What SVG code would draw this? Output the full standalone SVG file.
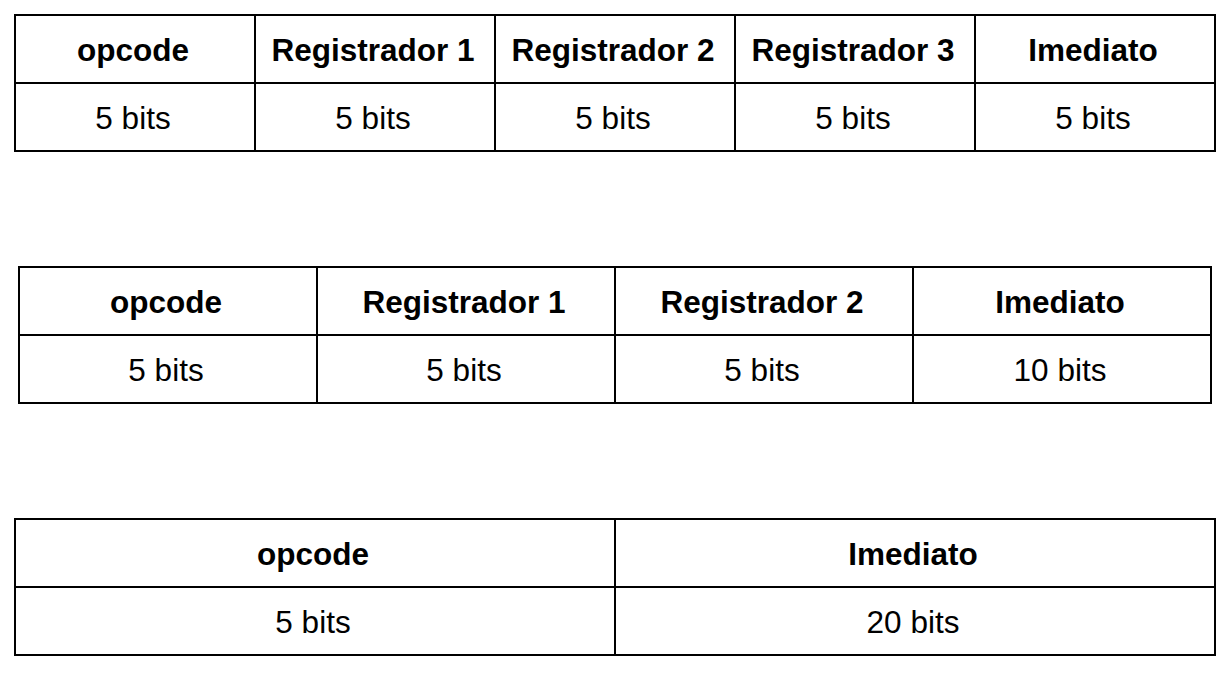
<svg xmlns="http://www.w3.org/2000/svg" width="1230" height="678" viewBox="0 0 1230 678">
<style>
.ln{stroke:#000;stroke-width:2;fill:none}
.h{font-family:"Liberation Sans",Arial,sans-serif;font-size:31.5px;font-weight:bold;text-anchor:middle;fill:#000}
.v{font-family:"Liberation Sans",Arial,sans-serif;font-size:31.5px;text-anchor:middle;fill:#000}
</style>
<rect width="1230" height="678" fill="#fff"/>
<g id="table1">
<rect class="ln" x="15" y="15" width="1200" height="136"/>
<path class="ln" d="M15 83H1215M255 15V151M495 15V151M735 15V151M975 15V151"/>
<text class="h" x="133" y="61">opcode</text>
<text class="h" x="373" y="61">Registrador 1</text>
<text class="h" x="613" y="61">Registrador 2</text>
<text class="h" x="853" y="61">Registrador 3</text>
<text class="h" x="1093" y="61">Imediato</text>
<text class="v" x="133" y="129">5 bits</text>
<text class="v" x="373" y="129">5 bits</text>
<text class="v" x="613" y="129">5 bits</text>
<text class="v" x="853" y="129">5 bits</text>
<text class="v" x="1093" y="129">5 bits</text>
</g>
<g id="table2">
<rect class="ln" x="19" y="267" width="1192" height="136"/>
<path class="ln" d="M19 335H1211M317 267V403M615 267V403M913 267V403"/>
<text class="h" x="166" y="313">opcode</text>
<text class="h" x="464" y="313">Registrador 1</text>
<text class="h" x="762" y="313">Registrador 2</text>
<text class="h" x="1060" y="313">Imediato</text>
<text class="v" x="166" y="381">5 bits</text>
<text class="v" x="464" y="381">5 bits</text>
<text class="v" x="762" y="381">5 bits</text>
<text class="v" x="1060" y="381">10 bits</text>
</g>
<g id="table3">
<rect class="ln" x="15" y="519" width="1200" height="136"/>
<path class="ln" d="M15 587H1215M615 519V655"/>
<text class="h" x="313" y="565">opcode</text>
<text class="h" x="913" y="565">Imediato</text>
<text class="v" x="313" y="633">5 bits</text>
<text class="v" x="913" y="633">20 bits</text>
</g>
</svg>
